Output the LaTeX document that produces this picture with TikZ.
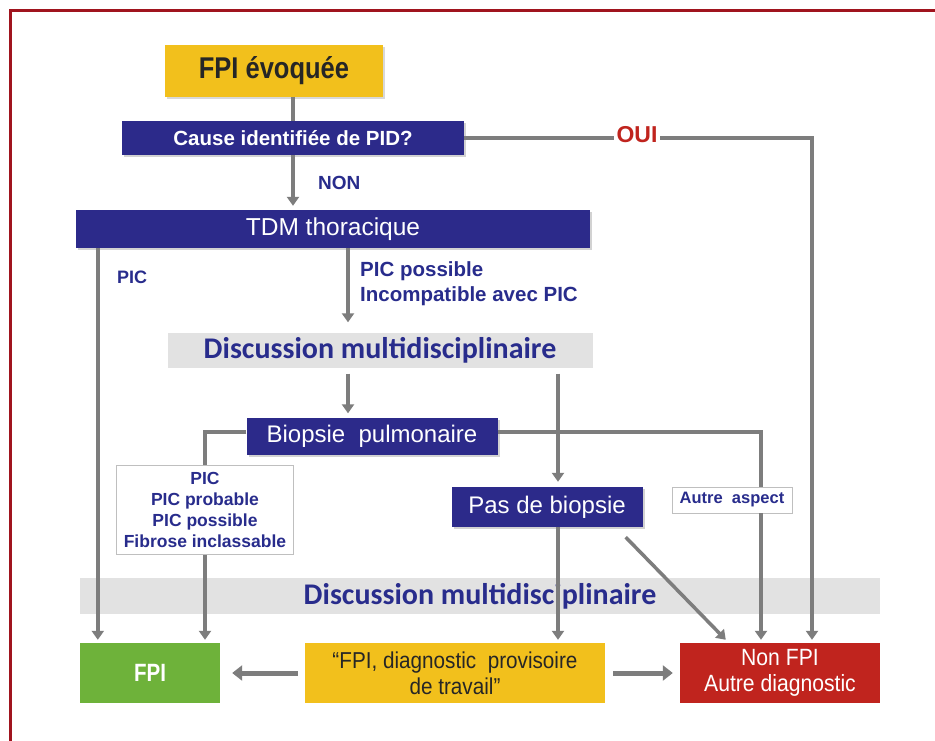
\documentclass[tikz,border=0pt]{standalone}
\usepackage{fontspec}
\setmainfont{Liberation Sans}
\newfontfamily\narrowf[FakeStretch=0.85]{Liberation Sans}
\newfontfamily\cndf[FakeStretch=0.82]{Liberation Sans}
\newfontfamily\bndf[FakeStretch=0.9]{Liberation Sans}
\newfontfamily\carl{Carlito}
\usetikzlibrary{arrows.meta,shadows,calc}
\definecolor{boxblue}{RGB}{44,42,138}
\definecolor{txtblue}{RGB}{40,44,140}
\definecolor{goldy}{RGB}{242,192,28}
\definecolor{greenb}{RGB}{110,178,58}
\definecolor{redb}{RGB}{192,36,30}
\definecolor{lineg}{RGB}{125,125,125}
\definecolor{bandg}{RGB}{226,226,226}
\definecolor{framer}{RGB}{160,20,30}
\tikzset{
  bluebox/.style={fill=boxblue, text=white, inner sep=0pt, draw=none,
    drop shadow={shadow xshift=2pt, shadow yshift=-2pt, opacity=0.35, fill=gray}},
  band/.style={fill=bandg, draw=none, inner sep=0pt, text=txtblue, font=\carl\bfseries\fontsize{30}{34}\selectfont},
  lbl/.style={text=txtblue, font=\bfseries\fontsize{19}{22}\selectfont, inner sep=0pt},
  conn/.style={draw=lineg, line width=3.5pt},
  arr/.style={conn, -{Triangle[length=9pt,width=12pt]}},
  fat/.style={draw=lineg, line width=5pt, -{Triangle[length=10pt,width=15pt]}},
}
\begin{document}
\begin{tikzpicture}[x=1pt,y=-1pt]
\useasboundingbox (0,0) rectangle (935,741);
\fill[white] (0,0) rectangle (935,741);
\draw[framer, line width=2.5pt] (10.5,741) -- (10.5,10.5) -- (935,10.5);

% nodes
\node[fill=goldy, minimum width=218pt, minimum height=52pt, inner sep=0pt,
  drop shadow={shadow xshift=2pt, shadow yshift=-2pt, opacity=0.3, fill=gray},
  font=\narrowf\bfseries\fontsize{30}{34}\selectfont, text=black!85] (evoq) at (274,71) {FPI évoquée};
\node[bluebox, minimum width=342pt, minimum height=34pt, font=\bfseries\fontsize{20.5}{23}\selectfont] (cause) at (293,138) {Cause identifiée de PID?};
\node[bluebox, minimum width=514pt, minimum height=38pt, font=\fontsize{24.5}{27}\selectfont] (tdm) at (333,229) {TDM thoracique};
\node[band, minimum width=425pt, minimum height=35pt] (disc1) at (380,350) {Discussion multidisciplinaire};
\node[bluebox, minimum width=251pt, minimum height=37pt, font=\fontsize{24}{27}\selectfont] (biop) at (372,436) {Biopsie\ \ pulmonaire};
\node[draw=black!25, fill=white, line width=0.8pt, minimum width=177pt, minimum height=89pt, inner sep=0pt,
  align=center, text=txtblue, font=\bfseries\fontsize{17.5}{21}\selectfont] (picbox) at (205,510)
  {PIC\\PIC probable\\PIC possible\\Fibrose inclassable};
\node[bluebox, minimum width=191pt, minimum height=40pt, font=\fontsize{24}{27}\selectfont] (pasb) at (547,507) {Pas de biopsie};
\node[draw=black!25, fill=white, line width=0.8pt, minimum width=120pt, minimum height=26pt, inner sep=0pt,
  text=txtblue, font=\bfseries\fontsize{16.5}{18}\selectfont] (autre) at (732,500) {Autre\ \ aspect};
\node[band, minimum width=800pt, minimum height=36pt] (disc2) at (480,596) {Discussion multidisciplinaire};
\node[fill=greenb, minimum width=140pt, minimum height=60pt, inner sep=0pt, text=white,
  font=\cndf\bfseries\fontsize{25}{30}\selectfont] (fpi) at (150,673) {FPI};
\node[fill=goldy, minimum width=300pt, minimum height=60pt, inner sep=0pt, align=center, text=black!85,
  font=\bndf\fontsize{23}{26}\selectfont] (provis) at (455,673) {“FPI, diagnostic\ \ provisoire\\de travail”};
\node[fill=redb, minimum width=200pt, minimum height=60pt, inner sep=0pt, align=center, text=white,
  font=\bndf\fontsize{23.5}{26}\selectfont] (nonfpi) at (780,673) {Non FPI\\Autre diagnostic};

% connectors
\draw[conn] (cause.north |- evoq.south) -- (cause.north);
\draw[arr, shorten >=4pt] (cause.south) -- (cause.south |- tdm.north);
\node[lbl, anchor=west] (non) at (318,183) {NON};

\coordinate (oR) at ($(nonfpi.north)+(32,0)$);
\draw[arr, shorten >=3pt] (cause.east) -| (oR);
\node[fill=white, inner sep=3pt, text=redb, font=\bfseries\fontsize{23}{26}\selectfont] (oui) at (637,135) {OUI};

\coordinate (tL) at ($(tdm.south west)+(22,0)$);
\draw[arr, shorten >=3pt] (tL) -- (tL |- fpi.north);
\node[lbl, anchor=west, font=\bfseries\fontsize{18}{21}\selectfont] (pic) at (117,277) {PIC};

\coordinate (tM) at ($(tdm.south)+(15,0)$);
\draw[arr, shorten >=10pt] (tM) -- (tM |- disc1.north);
\node[lbl, anchor=north west, align=left, font=\bfseries\fontsize{20.5}{25}\selectfont] (picpos) at (360,261) {PIC possible\\Incompatible avec PIC};

\coordinate (d1a) at ($(disc1.south)+(-32,6)$);
\draw[arr, shorten >=4pt] (d1a) -- (d1a |- biop.north);
\coordinate (d1b) at ($(disc1.south)+(178,6)$);
\draw[arr, shorten >=5pt] (d1b) -- (d1b |- pasb.north);

\coordinate (bL) at ($(biop.west)+(0,-4)$);
\draw[conn] (bL) -| (picbox.north);
\draw[arr, shorten >=3pt] (picbox.south) -- (picbox.south |- fpi.north);

\coordinate (bR) at ($(biop.east)+(0,-4)$);
\coordinate (aT) at ($(autre.north)+(29,0)$);
\coordinate (aB) at ($(autre.south)+(29,0)$);
\draw[conn] (bR) -| (aT);
\draw[arr, shorten >=3pt] (aB) -- (aB |- nonfpi.north);

\coordinate (pS) at ($(pasb.south)+(11,0)$);
\draw[arr, shorten >=3pt] (pS) -- (pS |- provis.north);
\coordinate (dg1) at ($(pasb.south east)+(-17,10)$);
\coordinate (dg2) at ($(nonfpi.north west)+(46,-3)$);
\draw[arr] (dg1) -- (dg2);

\draw[fat, shorten <=7pt, shorten >=12pt] (provis.west) -- (fpi.east);
\draw[fat, shorten <=8pt, shorten >=7pt] (provis.east) -- (nonfpi.west);
\end{tikzpicture}
\end{document}
